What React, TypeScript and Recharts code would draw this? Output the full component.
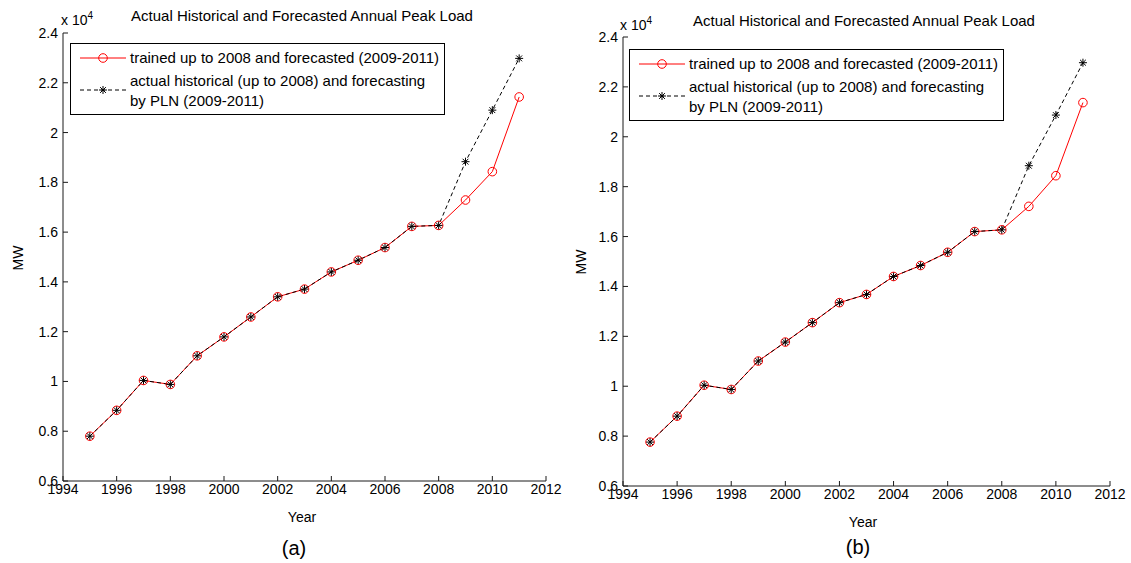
import React from "react";
import { LineChart, Line, XAxis, YAxis } from "recharts";

// ---- data (MW) ----
const years = [1995, 1996, 1997, 1998, 1999, 2000, 2001, 2002, 2003, 2004, 2005, 2006, 2007, 2008, 2009, 2010, 2011];

// panel (a)
const historyA = [7800, 8840, 10040, 9880, 11030, 11790, 12590, 13400, 13710, 14400, 14870, 15380, 16230, 16270];
const trainedForecastA = [17290, 18430, 21430];
const plnForecastA = [18830, 20900, 22980];

// panel (b)
const historyB = [7760, 8800, 10040, 9870, 11010, 11770, 12550, 13350, 13680, 14400, 14840, 15370, 16200, 16270];
const trainedForecastB = [17210, 18440, 21370];
const plnForecastB = [18840, 20870, 22970];

const xTicks = [1994, 1996, 1998, 2000, 2002, 2004, 2006, 2008, 2010, 2012];
const yTicks = [6000, 8000, 10000, 12000, 14000, 16000, 18000, 20000, 22000, 24000];

const titleText = "Actual Historical and Forecasted Annual Peak Load";
const legendTrained = ["trained up to 2008 and forecasted (2009-2011)"];
const legendActual = ["actual historical (up to 2008) and forecasting", "by PLN (2009-2011)"];
const panelLabels = ["(a)", "(b)"];

function buildData(history: number[], trainedFc: number[], plnFc: number[]) {
  return years.map((year, i) => ({
    year,
    trained: i < history.length ? history[i] : trainedFc[i - history.length],
    actual: i < history.length ? history[i] : plnFc[i - history.length],
  }));
}

const dataA = buildData(historyA, trainedForecastA, plnForecastA);
const dataB = buildData(historyB, trainedForecastB, plnForecastB);

const FONT = '"Liberation Sans", Arial, sans-serif';
const AXIS = "#1a1a1a";
const TICK = 5;

const BottomTick = (p: any) => {
  const { x, y, payload } = p;
  return (
    <g>
      <line x1={x} y1={y} x2={x} y2={y - TICK} stroke={AXIS} strokeWidth={1} />
      <text x={x} y={y + 13} textAnchor="middle" fontSize={14} fontFamily={FONT} fill="#000">
        {payload.value}
      </text>
    </g>
  );
};
const LeftTick = (p: any) => {
  const { x, y, payload } = p;
  return (
    <g>
      <line x1={x} y1={y} x2={x + TICK} y2={y} stroke={AXIS} strokeWidth={1} />
      <text x={x - 5} y={y + 5} textAnchor="end" fontSize={14} fontFamily={FONT} fill="#000">
        {String(payload.value / 10000)}
      </text>
    </g>
  );
};
const TopTick = (p: any) => {
  const { x, y } = p;
  return <line x1={x} y1={y} x2={x} y2={y + TICK} stroke={AXIS} strokeWidth={1} />;
};
const RightTick = (p: any) => {
  const { x, y } = p;
  return <line x1={x} y1={y} x2={x - TICK} y2={y} stroke={AXIS} strokeWidth={1} />;
};

const CircleDot = (p: any) => {
  const { cx, cy, index } = p;
  if (cx == null || cy == null) return <g key={`c${index}`} />;
  return <circle key={`c${index}`} cx={cx} cy={cy} r={4.3} fill="none" stroke="#ff0000" strokeWidth={1} />;
};
const StarDot = (p: any) => {
  const { cx, cy, index } = p;
  if (cx == null || cy == null) return <g key={`s${index}`} />;
  const s = 4;
  const d = 2.9;
  return (
    <g key={`s${index}`} stroke="#000" strokeWidth={1}>
      <line x1={cx - s} y1={cy} x2={cx + s} y2={cy} />
      <line x1={cx} y1={cy - s} x2={cx} y2={cy + s} />
      <line x1={cx - d} y1={cy - d} x2={cx + d} y2={cy + d} />
      <line x1={cx - d} y1={cy + d} x2={cx + d} y2={cy - d} />
    </g>
  );
};

const LegendBox = ({ left, top }: { left: number; top: number }) => (
  <div
    style={{
      position: "absolute",
      left,
      top,
      width: 373,
      height: 70,
      border: "1px solid #000",
      background: "#fff",
      fontFamily: FONT,
      fontSize: 15,
      color: "#000",
    }}
  >
    <svg style={{ position: "absolute", left: 0, top: 0 }} width={60} height={70}>
      <line x1={9} y1={14} x2={55} y2={14} stroke="#ff0000" strokeWidth={1} />
      <circle cx={32} cy={14} r={4.3} fill="none" stroke="#ff0000" strokeWidth={1} />
      <line x1={9} y1={46} x2={55} y2={46} stroke="#000" strokeWidth={1} strokeDasharray="4 3" />
      <g stroke="#000" strokeWidth={1}>
        <line x1={28} y1={46} x2={36} y2={46} />
        <line x1={32} y1={42} x2={32} y2={50} />
        <line x1={29.1} y1={43.1} x2={34.9} y2={48.9} />
        <line x1={29.1} y1={48.9} x2={34.9} y2={43.1} />
      </g>
    </svg>
    <div style={{ position: "absolute", left: 59, top: 4, lineHeight: "20px", whiteSpace: "nowrap" }}>
      {legendTrained.map((t) => (
        <div key={t}>{t}</div>
      ))}
    </div>
    <div style={{ position: "absolute", left: 59, top: 27, lineHeight: "20px", whiteSpace: "nowrap" }}>
      {legendActual.map((t) => (
        <div key={t}>{t}</div>
      ))}
    </div>
  </div>
);

type PanelCfg = {
  data: any[];
  left: number;
  width: number;
  yAxisWidth: number;
  margin: { top: number; right: number; bottom: number; left: number };
  legendPos: { left: number; top: number };
  title: { x: number; y: number };
  exp: { x: number; y: number };
  mw: { x: number; y: number };
  year: { x: number; y: number };
  label: { x: number; y: number; text: string };
};

const Centered = ({ x, y, children, style }: any) => (
  <div
    style={{
      position: "absolute",
      left: x,
      top: y,
      transform: "translate(-50%, -50%)",
      whiteSpace: "nowrap",
      fontFamily: FONT,
      color: "#000",
      lineHeight: 1,
      ...style,
    }}
  >
    {children}
  </div>
);

const Panel = ({ cfg }: { cfg: PanelCfg }) => (
  <>
    <div style={{ position: "absolute", left: cfg.left, top: 0 }}>
      <LineChart width={cfg.width} height={563} data={cfg.data} margin={cfg.margin}>
        <XAxis
          xAxisId="b"
          dataKey="year"
          type="number"
          domain={[1994, 2012]}
          ticks={xTicks}
          interval={0}
          height={30}
          tickSize={0}
          tickMargin={0}
          tickLine={false}
          axisLine={{ stroke: AXIS }}
          tick={<BottomTick />}
        />
        <XAxis
          xAxisId="t"
          orientation="top"
          dataKey="year"
          type="number"
          domain={[1994, 2012]}
          ticks={xTicks}
          interval={0}
          height={0}
          tickSize={0}
          tickMargin={0}
          tickLine={false}
          axisLine={{ stroke: AXIS }}
          tick={<TopTick />}
        />
        <YAxis
          yAxisId="l"
          type="number"
          domain={[6000, 24000]}
          ticks={yTicks}
          interval={0}
          width={cfg.yAxisWidth}
          tickSize={0}
          tickMargin={0}
          tickLine={false}
          axisLine={{ stroke: AXIS }}
          tick={<LeftTick />}
        />
        <YAxis
          yAxisId="r"
          orientation="right"
          type="number"
          domain={[6000, 24000]}
          ticks={yTicks}
          interval={0}
          width={0}
          tickSize={0}
          tickMargin={0}
          tickLine={false}
          axisLine={{ stroke: AXIS }}
          tick={<RightTick />}
        />
        <Line
          xAxisId="b"
          yAxisId="l"
          dataKey="trained"
          name="trained"
          stroke="#ff0000"
          strokeWidth={1}
          dot={(p: any) => <CircleDot {...p} />}
          activeDot={false}
          isAnimationActive={false}
        />
        <Line
          xAxisId="b"
          yAxisId="l"
          dataKey="actual"
          name="actual"
          stroke="#000"
          strokeWidth={1}
          strokeDasharray="4 3"
          dot={(p: any) => <StarDot {...p} />}
          activeDot={false}
          isAnimationActive={false}
        />
      </LineChart>
    </div>
    <LegendBox left={cfg.left + cfg.legendPos.left} top={cfg.legendPos.top} />
    <Centered x={cfg.title.x} y={cfg.title.y} style={{ fontSize: 15 }}>
      {titleText}
    </Centered>
    <div
      style={{
        position: "absolute",
        left: cfg.exp.x,
        top: cfg.exp.y - 9,
        fontFamily: FONT,
        fontSize: 14,
        lineHeight: "18px",
        whiteSpace: "nowrap",
        color: "#000",
      }}
    >
      x 10<sup style={{ fontSize: 10, verticalAlign: "6px", lineHeight: 0 }}>4</sup>
    </div>
    <Centered x={cfg.mw.x} y={cfg.mw.y} style={{ fontSize: 14, transform: "translate(-50%, -50%) rotate(-90deg)" }}>
      MW
    </Centered>
    <Centered x={cfg.year.x} y={cfg.year.y} style={{ fontSize: 14 }}>
      Year
    </Centered>
    <Centered x={cfg.label.x} y={cfg.label.y} style={{ fontSize: 20 }}>
      {cfg.label.text}
    </Centered>
  </>
);

const panelA: PanelCfg = {
  data: dataA,
  left: 0,
  width: 565,
  yAxisWidth: 63,
  margin: { top: 33, right: 19, bottom: 52, left: 0 },
  legendPos: { left: 70, top: 43 },
  title: { x: 302, y: 15 },
  exp: { x: 61, y: 20 },
  mw: { x: 18, y: 258 },
  year: { x: 302, y: 517 },
  label: { x: 294, y: 548, text: panelLabels[0] },
};

const panelB: PanelCfg = {
  data: dataB,
  left: 565,
  width: 566,
  yAxisWidth: 58,
  margin: { top: 37, right: 21, bottom: 47, left: 0 },
  legendPos: { left: 64, top: 49 },
  title: { x: 864, y: 20 },
  exp: { x: 620, y: 25 },
  mw: { x: 581, y: 262 },
  year: { x: 863, y: 522 },
  label: { x: 858, y: 547, text: panelLabels[1] },
};

export default function App() {
  return (
    <div style={{ position: "absolute", left: 0, top: 0, width: 1131, height: 563, background: "#fff", overflow: "hidden" }}>
      <Panel cfg={panelA} />
      <Panel cfg={panelB} />
    </div>
  );
}
